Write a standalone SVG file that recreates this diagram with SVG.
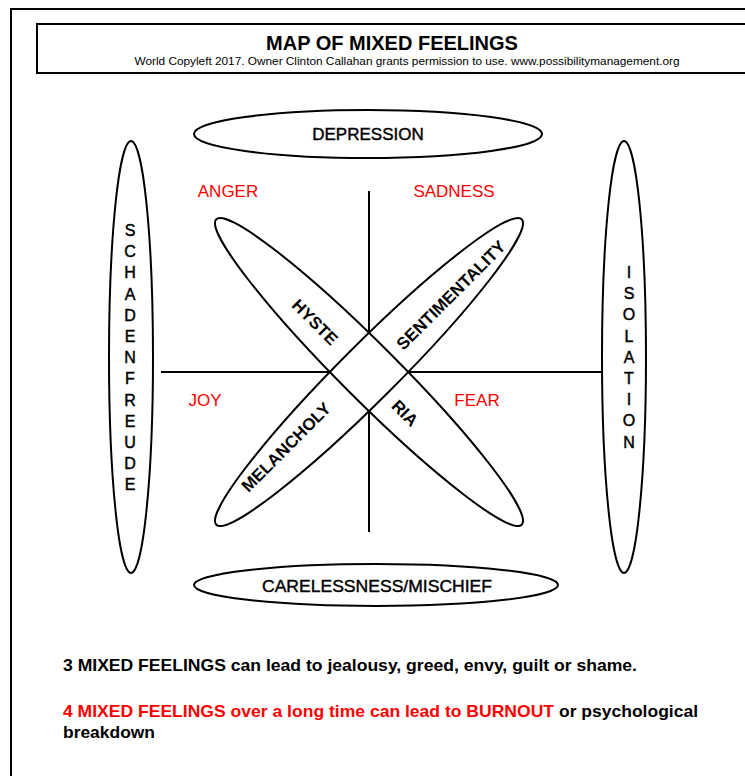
<svg xmlns="http://www.w3.org/2000/svg" width="745" height="776" viewBox="0 0 745 776">
<style>
.ln{stroke:#000;stroke-width:2;fill:none}
.el{stroke:#000;stroke-width:2;fill:#fff}
.fillw{fill:#fff;stroke:none}
.t{font-family:"Liberation Sans",Arial,sans-serif;fill:#000}
.lab{font-size:17px;text-anchor:middle}
.thick{stroke:#000;stroke-width:0.4}
.red{fill:#ff0000}
.diag{font-size:17px;font-weight:bold;text-anchor:middle}
.vert{font-size:16px;text-anchor:middle;stroke:#000;stroke-width:0.45}
.bot{font-size:17px;font-weight:bold}
</style>
<rect width="745" height="776" fill="#fff"/>
<rect x="11" y="9" width="750" height="790" class="ln"/>
<g id="title">
<rect x="37" y="24" width="720" height="49" class="ln"/>
<text x="392" y="50" class="t" font-size="20" font-weight="bold" text-anchor="middle">MAP OF MIXED FEELINGS</text>
<text x="407" y="65" class="t" font-size="11" text-anchor="middle" textLength="545" lengthAdjust="spacingAndGlyphs">World Copyleft 2017. Owner Clinton Callahan grants permission to use. www.possibilitymanagement.org</text>
</g>
<g id="connectors">
<line x1="369" y1="191" x2="369" y2="532" class="ln"/>
<line x1="161" y1="372" x2="601" y2="372" class="ln"/>
</g>
<g id="hysteria">
<ellipse cx="369" cy="372" rx="216" ry="28" transform="rotate(45 369 372)" class="fillw"/>
</g>
<g id="sentimentality">
<ellipse cx="369" cy="372" rx="216" ry="28" transform="rotate(-45 369 372)" class="fillw"/>
<ellipse cx="369" cy="372" rx="216" ry="28" transform="rotate(-45 369 372)" class="ln"/>
</g>
<g id="hysteria-outline">
<ellipse cx="369" cy="372" rx="216" ry="28" transform="rotate(45 369 372)" class="ln"/>
</g>
<g id="diag-labels">
<text class="t diag" transform="translate(315,322) rotate(45)" y="6">HYSTE</text>
<text class="t diag" transform="translate(405,413) rotate(45)" y="6">RIA</text>
<text class="t diag" transform="translate(451,295) rotate(-45)" y="6">SENTIMENTALITY</text>
<text class="t diag" transform="translate(286,447) rotate(-45)" y="6">MELANCHOLY</text>
</g>
<g id="depression">
<ellipse cx="368" cy="134" rx="174" ry="24" class="el"/>
<text x="368" y="140" class="t lab thick" font-size="18">DEPRESSION</text>
</g>
<g id="carelessness">
<ellipse cx="376" cy="585" rx="182" ry="21" class="el"/>
<text x="377" y="592" class="t lab thick" font-size="18" textLength="230" lengthAdjust="spacingAndGlyphs">CARELESSNESS/MISCHIEF</text>
</g>
<g id="schadenfreude">
<ellipse cx="131" cy="357" rx="22" ry="216" class="el"/>
<text class="t vert">
<tspan x="130" y="236">S</tspan><tspan x="130" y="257.2">C</tspan><tspan x="130" y="278.4">H</tspan><tspan x="130" y="299.6">A</tspan><tspan x="130" y="320.8">D</tspan><tspan x="130" y="342">E</tspan><tspan x="130" y="363.2">N</tspan><tspan x="130" y="384.4">F</tspan><tspan x="130" y="405.6">R</tspan><tspan x="130" y="426.8">E</tspan><tspan x="130" y="448">U</tspan><tspan x="130" y="469.2">D</tspan><tspan x="130" y="490.4">E</tspan>
</text>
</g>
<g id="isolation">
<ellipse cx="624" cy="357" rx="22" ry="216" class="el"/>
<text class="t vert">
<tspan x="629" y="278">I</tspan><tspan x="629" y="299.2">S</tspan><tspan x="629" y="320.4">O</tspan><tspan x="629" y="341.6">L</tspan><tspan x="629" y="362.8">A</tspan><tspan x="629" y="384">T</tspan><tspan x="629" y="405.2">I</tspan><tspan x="629" y="426.4">O</tspan><tspan x="629" y="447.6">N</tspan>
</text>
</g>
<g id="quadrants">
<text x="228" y="197" class="t lab red">ANGER</text>
<text x="454" y="197" class="t lab red">SADNESS</text>
<text x="205" y="406" class="t lab red">JOY</text>
<text x="477" y="406" class="t lab red">FEAR</text>
</g>
<g id="notes">
<text x="63" y="671" class="t bot" textLength="574" lengthAdjust="spacingAndGlyphs">3 MIXED FEELINGS can lead to jealousy, greed, envy, guilt or shame.</text>
<text x="63" y="717" class="t bot red" textLength="491" lengthAdjust="spacingAndGlyphs">4 MIXED FEELINGS over a long time can lead to BURNOUT</text>
<text x="559" y="717" class="t bot" textLength="139" lengthAdjust="spacingAndGlyphs">or psychological</text>
<text x="63" y="738" class="t bot" textLength="92" lengthAdjust="spacingAndGlyphs">breakdown</text>
</g>
</svg>
